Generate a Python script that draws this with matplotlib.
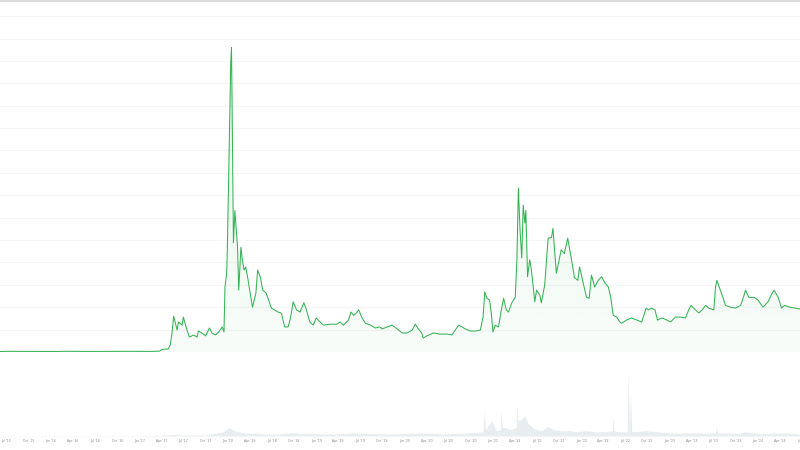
import numpy as np
import pandas as pd
import matplotlib
matplotlib.use("Agg")
import matplotlib.pyplot as plt
import matplotlib.dates as mdates
from matplotlib.lines import Line2D

# ---------------- data ----------------
price_dates = [
    "2015-06-04", "2015-07-15", "2015-09-01", "2015-11-01", "2016-01-15", "2016-03-15",
    "2016-05-15", "2016-07-15", "2016-09-15", "2016-11-15", "2017-01-15", "2017-03-01",
    "2017-03-25", "2017-04-05", "2017-04-30", "2017-05-08", "2017-05-15", "2017-05-22",
    "2017-06-05", "2017-06-11", "2017-06-26", "2017-07-01", "2017-07-16", "2017-07-26",
    "2017-08-12", "2017-08-27", "2017-09-01", "2017-09-17", "2017-10-01", "2017-10-17",
    "2017-10-28", "2017-11-11", "2017-11-24", "2017-12-09", "2017-12-16", "2017-12-20",
    "2017-12-27", "2017-12-30", "2018-01-06", "2018-01-10", "2018-01-13", "2018-01-16",
    "2018-01-18", "2018-01-21", "2018-01-24", "2018-01-30", "2018-02-04", "2018-02-10",
    "2018-02-15", "2018-02-24", "2018-03-02", "2018-03-09", "2018-03-16", "2018-03-26",
    "2018-04-03", "2018-04-13", "2018-04-27", "2018-05-04", "2018-05-15", "2018-05-25",
    "2018-06-08", "2018-06-22", "2018-06-30", "2018-07-13", "2018-07-27", "2018-08-10",
    "2018-08-24", "2018-09-07", "2018-09-17", "2018-09-28", "2018-10-12", "2018-10-26",
    "2018-11-11", "2018-11-22", "2018-12-06", "2018-12-20", "2019-01-01", "2019-01-17",
    "2019-01-31", "2019-02-28", "2019-03-27", "2019-04-10", "2019-04-24", "2019-05-15",
    "2019-05-25", "2019-06-05", "2019-06-16", "2019-06-26", "2019-07-10", "2019-07-24",
    "2019-08-14", "2019-09-03", "2019-09-21", "2019-10-01", "2019-10-22", "2019-11-11",
    "2019-12-02", "2019-12-23", "2020-01-12", "2020-02-02", "2020-02-15", "2020-02-28",
    "2020-03-12", "2020-03-19", "2020-04-02", "2020-04-29", "2020-05-27", "2020-06-24",
    "2020-07-15", "2020-07-29", "2020-08-12", "2020-08-26", "2020-09-09", "2020-09-30",
    "2020-10-21", "2020-11-10", "2020-11-21", "2020-11-28", "2020-12-07", "2020-12-18",
    "2020-12-25", "2021-01-01", "2021-01-10", "2021-01-24", "2021-02-03", "2021-02-14",
    "2021-02-25", "2021-03-06", "2021-03-20", "2021-04-03", "2021-04-10", "2021-04-16",
    "2021-04-23", "2021-04-30", "2021-05-06", "2021-05-13", "2021-05-17", "2021-05-24",
    "2021-06-02", "2021-06-09", "2021-06-23", "2021-06-30", "2021-07-13", "2021-07-20",
    "2021-08-03", "2021-08-17", "2021-08-31", "2021-09-06", "2021-09-20", "2021-10-10",
    "2021-10-23", "2021-11-06", "2021-11-20", "2021-12-04", "2021-12-18", "2021-12-25",
    "2022-01-09", "2022-01-23", "2022-02-03", "2022-02-12", "2022-02-26", "2022-03-12",
    "2022-03-26", "2022-04-09", "2022-04-23", "2022-05-03", "2022-05-13", "2022-05-27",
    "2022-06-10", "2022-06-17", "2022-07-07", "2022-07-28", "2022-08-18", "2022-09-08",
    "2022-09-26", "2022-10-05", "2022-10-19", "2022-11-02", "2022-11-12", "2022-11-30",
    "2022-12-21", "2023-01-05", "2023-01-25", "2023-02-15", "2023-03-08", "2023-03-21",
    "2023-03-31", "2023-04-11", "2023-05-02", "2023-05-16", "2023-05-30", "2023-06-12",
    "2023-07-03", "2023-07-10", "2023-07-16", "2023-07-30", "2023-08-10", "2023-08-20",
    "2023-09-10", "2023-10-01", "2023-10-22", "2023-11-02", "2023-11-11", "2023-11-25",
    "2023-12-16", "2024-01-02", "2024-01-22", "2024-02-12", "2024-02-26", "2024-03-08",
    "2024-03-25", "2024-04-08", "2024-04-21", "2024-05-12", "2024-06-02", "2024-06-23",
]
price_usd = [
    0.0060, 0.0075, 0.0070, 0.0055, 0.0060, 0.0080,
    0.0065, 0.0070, 0.0065, 0.0075, 0.0065, 0.0070,
    0.010, 0.030, 0.035, 0.080, 0.210, 0.400,
    0.245, 0.335, 0.300, 0.390, 0.245, 0.167,
    0.190, 0.167, 0.234, 0.210, 0.180, 0.268,
    0.210, 0.190, 0.223, 0.280, 0.223, 0.725,
    0.880, 1.170, 2.180, 2.730, 3.230, 3.400,
    2.920, 2.000, 1.220, 1.580, 1.400, 1.170,
    0.690, 1.170, 1.030, 0.915, 0.950, 0.800,
    0.660, 0.500, 0.660, 0.915, 0.840, 0.690,
    0.660, 0.550, 0.490, 0.470, 0.446, 0.435,
    0.280, 0.280, 0.380, 0.560, 0.470, 0.446,
    0.550, 0.470, 0.335, 0.300, 0.380, 0.335,
    0.300, 0.310, 0.310, 0.335, 0.300, 0.357,
    0.446, 0.410, 0.435, 0.470, 0.380, 0.320,
    0.300, 0.268, 0.280, 0.257, 0.280, 0.300,
    0.257, 0.212, 0.212, 0.245, 0.310, 0.257,
    0.212, 0.156, 0.180, 0.212, 0.200, 0.200,
    0.190, 0.245, 0.300, 0.280, 0.257, 0.234,
    0.234, 0.245, 0.390, 0.670, 0.600, 0.580,
    0.435, 0.223, 0.300, 0.280, 0.446, 0.600,
    0.470, 0.446, 0.550, 0.610, 1.030, 1.830,
    1.360, 1.050, 1.640, 1.440, 1.580, 0.840,
    1.030, 0.915, 0.560, 0.690, 0.640, 0.550,
    0.750, 1.270, 1.280, 1.380, 0.880, 1.140,
    1.100, 1.270, 1.060, 0.830, 0.800, 0.950,
    0.770, 0.610, 0.600, 0.860, 0.725, 0.800,
    0.840, 0.770, 0.725, 0.610, 0.410, 0.390,
    0.335, 0.320, 0.357, 0.380, 0.357, 0.335,
    0.490, 0.470, 0.490, 0.470, 0.357, 0.380,
    0.357, 0.335, 0.390, 0.390, 0.380, 0.470,
    0.520, 0.490, 0.435, 0.470, 0.520, 0.490,
    0.470, 0.725, 0.800, 0.690, 0.610, 0.520,
    0.500, 0.490, 0.520, 0.610, 0.690, 0.610,
    0.610, 0.580, 0.500, 0.560, 0.640, 0.690,
    0.610, 0.490, 0.520, 0.500, 0.490, 0.480,
]

volume_dates = [
    "2015-06-04", "2016-01-01", "2016-07-01", "2017-01-01", "2017-04-01", "2017-05-20",
    "2017-07-01", "2017-10-01", "2017-12-15", "2018-01-05", "2018-01-20", "2018-02-10",
    "2018-03-15", "2018-05-01", "2018-07-01", "2018-09-20", "2018-11-10", "2019-01-15",
    "2019-04-01", "2019-06-01", "2019-09-01", "2019-12-01", "2020-03-15", "2020-06-01",
    "2020-09-01", "2020-11-21", "2020-11-26", "2020-12-02", "2020-12-10", "2020-12-28",
    "2021-01-15", "2021-02-01", "2021-02-04", "2021-02-08", "2021-02-20", "2021-03-15",
    "2021-04-06", "2021-04-10", "2021-04-14", "2021-04-25", "2021-05-12", "2021-05-25",
    "2021-06-20", "2021-07-20", "2021-08-15", "2021-09-10", "2021-10-15", "2021-11-15",
    "2021-12-15", "2022-01-20", "2022-03-01", "2022-04-15", "2022-05-10", "2022-05-13",
    "2022-05-17", "2022-06-01", "2022-07-10", "2022-07-14", "2022-07-19", "2022-07-24",
    "2022-07-29", "2022-09-25", "2022-11-10", "2023-01-15", "2023-03-25", "2023-05-01",
    "2023-07-10", "2023-07-14", "2023-07-19", "2023-08-01", "2023-10-15", "2023-11-10",
    "2024-01-15", "2024-03-04", "2024-03-08", "2024-03-13", "2024-04-15", "2024-06-23",
]
volume_busd = [
    0.1, 0.2, 0.2, 0.3, 0.6, 1.5,
    1.0, 0.8, 4.0, 8.0, 6.0, 4.0,
    3.0, 2.5, 1.5, 3.0, 2.5, 2.0,
    2.0, 3.0, 2.0, 2.0, 3.0, 2.0,
    2.5, 4.0, 24.0, 6.0, 9.0, 14.0,
    5.0, 6.0, 24.0, 8.0, 8.0, 6.0,
    8.0, 29.0, 15.0, 15.0, 19.0, 12.0,
    7.0, 5.0, 9.0, 6.0, 5.0, 5.0,
    4.0, 5.0, 4.0, 4.0, 5.0, 19.0,
    5.0, 4.0, 4.0, 64.0, 6.0, 39.0,
    4.0, 5.0, 4.0, 2.5, 3.0, 2.5,
    3.0, 9.0, 3.0, 3.0, 2.5, 4.0,
    2.0, 2.5, 4.0, 2.5, 3.0, 2.0,
]

tick_dates = pd.date_range("2015-07-01", "2024-07-01", freq="QS-JAN")
tick_labels = [d.strftime("%b '%y") for d in tick_dates]

# ---------------- figure ----------------
W, H = 800, 450
fig = plt.figure(figsize=(W / 100, H / 100), dpi=100)
fig.patch.set_facecolor("white")

x_left = pd.Timestamp("2015-06-04")
x_right = pd.Timestamp("2024-07-14")
right_frac = 805 / W

GREEN = "#34b355"

# price axes
ax = fig.add_axes([0, (H - 352) / H, right_frac, 352 / H])
pd_dates = pd.to_datetime(price_dates)
prices = np.array(price_usd)
ymax = 3.93

poly = ax.fill_between(pd_dates, prices, 0, color="none", lw=0)
grad = np.zeros((256, 1, 4))
grad[:, 0, 0] = 52 / 255
grad[:, 0, 1] = 179 / 255
grad[:, 0, 2] = 85 / 255
grad[:, 0, 3] = np.linspace(0.035, 0.12, 256)
x0n, x1n = mdates.date2num(x_left), mdates.date2num(x_right)
img = ax.imshow(grad, extent=[x0n, x1n, 0, ymax], origin="lower",
                aspect="auto", zorder=1, interpolation="bilinear")
clip = poly.get_paths()[0]
img.set_clip_path(clip, transform=ax.transData)

ax.plot(pd_dates, prices, color=GREEN, lw=0.75, zorder=3)

ax.set_xlim(x_left, x_right)
ax.set_ylim(0, ymax)
ax.set_yticks(np.arange(0, 3.9, 0.25))
ax.grid(axis="y", color="#f5f5f5", lw=0.8, zorder=0)
ax.set_axisbelow(True)
ax.tick_params(left=False, bottom=False, labelleft=False, labelbottom=False)
for s in ax.spines.values():
    s.set_visible(False)
ax.patch.set_alpha(0)

# volume axes
axv = fig.add_axes([0, (H - 436) / H, right_frac, 76 / H])
vd = pd.to_datetime(volume_dates)
axv.fill_between(vd, volume_busd, 0, color="#e8edf0", lw=0)
axv.axhline(0, color="#eeeeee", lw=0.6)
axv.set_xlim(x_left, x_right)
axv.set_ylim(0, 72)
axv.set_yticks([])
axv.set_xticks(tick_dates)
axv.set_xticklabels(tick_labels, fontsize=2.3, color="#8c8c8c")
axv.tick_params(axis="x", length=0, pad=2.5)
for s in axv.spines.values():
    s.set_visible(False)
axv.patch.set_alpha(0)

# top border line
fig.add_artist(Line2D([0, 1], [1 - 0.8 / H, 1 - 0.8 / H], transform=fig.transFigure,
                      color="#d6d6d6", lw=1.2))

fig.savefig("out.png", dpi=100, facecolor="white")
